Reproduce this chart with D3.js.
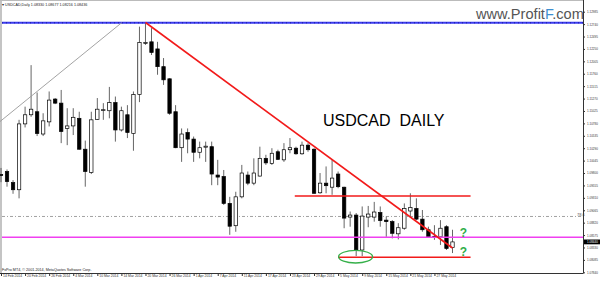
<!DOCTYPE html>
<html>
<head>
<meta charset="utf-8">
<script src="https://cdn.jsdelivr.net/npm/d3@7"></script>
<style>
body{margin:0;background:#fff;}
svg{display:block;font-family:"Liberation Sans",Arial,sans-serif;}
</style>
</head>
<body>
<svg id="chart" width="600" height="281"></svg>
<script>
// daily candles, 14 Feb 2014 .. 30 May 2014 (one per trading day)
var opens  = [1.0977,1.0983,1.0961,1.0947,1.1077,1.1095,1.1101,1.1057,1.1081,1.1126,1.1118,1.1068,1.1073,1.1088,1.1027,1.0981,1.1086,1.1104,1.1103,1.1119,
              1.1065,1.1095,1.1058,1.1135,1.1236,1.1239,1.1225,1.1190,1.1166,1.1101,1.1030,1.1060,1.1047,1.1021,1.1031,1.1032,1.0976,1.0973,1.0920,1.0876,
              1.0933,1.0976,1.0960,1.0974,1.1009,1.0999,1.1022,1.1006,1.1026,1.1029,1.1018,1.1035,1.1027,1.0941,1.0960,1.0952,1.0978,1.0952,1.0893,1.0897,
              1.0828,1.0893,1.0893,1.0902,1.0887,1.0884,1.0860,1.0871,1.0905,1.0910,1.0889,1.0868,1.0855,1.0854,1.0874,1.0833];
var highs  = [1.0990,1.0987,1.0966,1.1085,1.1111,1.1193,1.1139,1.1098,1.1141,1.1128,1.1144,1.1108,1.1108,1.1101,1.1044,1.1101,1.1128,1.1118,1.1150,1.1131,
              1.1111,1.1114,1.1141,1.1269,1.1277,1.1266,1.1239,1.1207,1.1167,1.1114,1.1068,1.1068,1.1052,1.1042,1.1042,1.1042,1.1006,1.0986,1.0933,1.0943,
              1.0996,1.0983,1.1009,1.1032,1.1016,1.1029,1.1026,1.1039,1.1049,1.1032,1.1042,1.1039,1.1029,1.0980,1.0993,1.1006,1.0983,1.0953,1.0904,1.0901,
              1.0914,1.0915,1.0923,1.0914,1.0894,1.0887,1.0881,1.0920,1.0940,1.0930,1.0907,1.0874,1.0877,1.0887,1.0877,1.0868];
var lows   = [1.0962,1.0953,1.0939,1.0930,1.1070,1.1091,1.1053,1.1053,1.1072,1.1116,1.1039,1.1035,1.1055,1.1026,1.0953,1.0978,1.1085,1.1085,1.1088,1.1042,
              1.1062,1.1049,1.1024,1.1120,1.1233,1.1213,1.1174,1.1154,1.1095,1.1029,1.1002,1.1019,1.1002,1.1009,1.1002,1.0956,1.0956,1.0917,1.0858,1.0864,
              1.0930,1.0956,1.0956,1.0973,1.0996,1.0996,1.1006,1.1002,1.1019,1.1016,1.1016,1.1022,1.0939,1.0939,1.0940,1.0937,1.0950,1.0871,1.0874,1.0816,
              1.0816,1.0873,1.0884,1.0874,1.0854,1.0851,1.0849,1.0868,1.0894,1.0887,1.0864,1.0853,1.0848,1.0838,1.0828,1.0822];
var closes = [1.0975,1.0963,1.0947,1.1077,1.1095,1.1106,1.1058,1.1083,1.1124,1.1118,1.1062,1.1073,1.1090,1.1027,1.0983,1.1085,1.1106,1.1105,1.1119,1.1065,
              1.1103,1.1060,1.1135,1.1238,1.1238,1.1218,1.1190,1.1164,1.1098,1.1030,1.1057,1.1047,1.1021,1.1030,1.1033,1.0978,1.0972,1.0920,1.0875,1.0933,
              1.0980,1.0960,1.0980,1.1009,1.1000,1.1019,1.1007,1.1026,1.1030,1.1018,1.1035,1.1026,1.0940,1.0960,1.0955,1.0970,1.0953,1.0891,1.0897,1.0828,
              1.0895,1.0899,1.0903,1.0886,1.0884,1.0861,1.0872,1.0910,1.0912,1.0889,1.0868,1.0854,1.0854,1.0871,1.0831,1.0844];

// date labels every 4th bar
var dateLabels = ["14 Feb 2014","20 Feb 2014","26 Feb 2014","4 Mar 2014","10 Mar 2014","14 Mar 2014","20 Mar 2014","26 Mar 2014",
                  "1 Apr 2014","7 Apr 2014","11 Apr 2014","17 Apr 2014","23 Apr 2014","29 Apr 2014","5 May 2014","9 May 2014",
                  "15 May 2014","21 May 2014","27 May 2014"];
var priceTicks = [1.07840,1.08085,1.08330,1.08575,1.08820,1.09065,1.09310,1.09555,1.09800,1.10045,1.10290,
                  1.10535,1.10780,1.11025,1.11270,1.11515,1.11760,1.12005,1.12250,1.12495,1.12740,1.12985];
var header = ["USDCAD,Daily", "1.08330", "1.08677", "1.08216", "1.08436"];

// drawn objects
var blueLevel = 1.12765, pinkLevel = 1.08531, fiboLevel = 1.08942;
var resistance = {from: 48.8, to: 78, price: 1.09346};
var support = {from: 56, to: 78, price: 1.08136};
var trendDown = [[24, 1.12772], [75, 1.0832]];
var trendUp = [[-0.2, 1.10813], [20.05, 1.12768]];

var svg = d3.select("#chart");
var W = 583, H = 273;
var x = d3.scaleLinear().domain([0, 75]).range([1, 452.5]);
var y = d3.scaleLinear().domain([1.07840, 1.12985]).range([272.3, 11.7]);

svg.append("rect").attr("width", 600).attr("height", 281).attr("fill", "#fff");
svg.append("rect").attr("x", 0).attr("y", 0).attr("width", 2).attr("height", H).attr("fill", "#c4c4c4");
svg.append("line").attr("x1", 0).attr("x2", W).attr("y1", 0.5).attr("y2", 0.5).attr("stroke", "#bbb");

var plot = svg.append("g");

// fibo 78.6 dash-dot level
plot.append("line")
  .attr("x1", 2).attr("x2", W).attr("y1", y(fiboLevel)).attr("y2", y(fiboLevel))
  .attr("stroke", "#8a8a8a").attr("stroke-width", 0.8).attr("stroke-dasharray", "3,2,1,2");
plot.append("text").attr("x", 577).attr("y", y(fiboLevel) - 0.5)
  .attr("font-size", 4).attr("fill", "#555").text("78,6");

// candles
var bars = d3.range(opens.length).map(function(i) {
  return {i: i, o: opens[i], h: highs[i], l: lows[i], c: closes[i]};
});
var bw = 3.4;
var candle = plot.selectAll(".candle").data(bars).enter().append("g").attr("class", "candle");
candle.append("line")
  .attr("x1", function(d) { return x(d.i); })
  .attr("x2", function(d) { return x(d.i); })
  .attr("y1", function(d) { return y(d.h); })
  .attr("y2", function(d) { return y(d.l); })
  .attr("stroke", "#555").attr("stroke-width", 0.9);
candle.append("rect")
  .attr("x", function(d) { return x(d.i) - bw / 2; })
  .attr("width", bw)
  .attr("y", function(d) { return y(Math.max(d.o, d.c)); })
  .attr("height", function(d) { return Math.max(0.8, Math.abs(y(d.o) - y(d.c))); })
  .attr("fill", function(d) { return d.c >= d.o ? "#fff" : "#000"; })
  .attr("stroke", "#000").attr("stroke-width", 0.7);

// horizontal levels
plot.append("line").attr("x1", 2).attr("x2", W).attr("y1", y(pinkLevel)).attr("y2", y(pinkLevel))
  .attr("stroke", "#f040f0").attr("stroke-width", 1.6);
plot.append("line").attr("x1", 2).attr("x2", W).attr("y1", y(blueLevel)).attr("y2", y(blueLevel))
  .attr("stroke", "#3a3aee").attr("stroke-width", 2);
plot.append("line").attr("x1", 2).attr("x2", W).attr("y1", y(blueLevel)).attr("y2", y(blueLevel))
  .attr("stroke", "#1c1c9a").attr("stroke-width", 1).attr("stroke-dasharray", "1,3");

[resistance, support].forEach(function(r) {
  plot.append("line").attr("x1", x(r.from)).attr("x2", x(r.to)).attr("y1", y(r.price)).attr("y2", y(r.price))
    .attr("stroke", "#f21a1a").attr("stroke-width", 1.6);
});

var line = d3.line().x(function(d) { return x(d[0]); }).y(function(d) { return y(d[1]); });
plot.append("path").attr("d", line(trendUp)).attr("fill", "none").attr("stroke", "#999").attr("stroke-width", 0.9);
plot.append("path").attr("d", line(trendDown)).attr("fill", "none").attr("stroke", "#f21a1a").attr("stroke-width", 1.6);

// green ellipse around the May lows and question marks
plot.append("ellipse").attr("cx", x(58.9)).attr("cy", y(1.08148)).attr("rx", 17).attr("ry", 6.3)
  .attr("fill", "none").attr("stroke", "#36b04a").attr("stroke-width", 1.3);
plot.selectAll(".q").data([1.0853, 1.0817]).enter().append("text")
  .attr("x", x(76.2)).attr("y", function(d) { return y(d); })
  .attr("font-size", 12).attr("font-weight", "bold").attr("fill", "#2fae4a").text("?");

// title and watermark
svg.append("text").attr("x", 323).attr("y", 126).attr("font-size", 16).attr("fill", "#000")
  .attr("xml:space", "preserve").text("USDCAD  DAILY");
var wm = svg.append("text").attr("x", 476).attr("y", 19).attr("font-size", 14.6).attr("fill", "#555");
wm.append("tspan").text("www.Profit");
wm.append("tspan").attr("fill", "#3d8fd0").text("F");
wm.append("tspan").text(".com");

// header and copyright
svg.append("text").attr("x", 2).attr("y", 5.5).attr("font-size", 3.7).attr("fill", "#222")
  .attr("xml:space", "preserve").text("\u25BE " + header.join(" "));
svg.append("text").attr("x", 2).attr("y", 271).attr("font-size", 3.7).attr("fill", "#222")
  .text("FxPro MT4, \u00A9 2001-2014, MetaQuotes Software Corp.");

// price axis
var yAxis = svg.append("g").attr("transform", "translate(" + W + ",0)")
  .call(d3.axisRight(y).tickValues(priceTicks).tickSize(2).tickPadding(2).tickFormat(d3.format(".5f")));
yAxis.select(".domain").attr("d", "M0.5,0V" + H).attr("stroke", "#333");
yAxis.selectAll("text").attr("font-size", 3).attr("fill", "#333").attr("font-family", "Liberation Sans, Arial");
yAxis.selectAll("line").attr("stroke", "#333");

// current price box
var last = closes[closes.length - 1];
svg.append("rect").attr("x", W + 1).attr("y", y(last) - 2.4).attr("width", 16).attr("height", 4.8).attr("fill", "#000");
svg.append("text").attr("x", W + 4).attr("y", y(last) + 1.1).attr("font-size", 3).attr("fill", "#fff")
  .text(d3.format(".5f")(last));

// date axis
var dateTicks = dateLabels.map(function(d, k) { return k * 4; });
var xAxis = svg.append("g").attr("transform", "translate(0," + H + ")")
  .call(d3.axisBottom(x).tickValues(dateTicks).tickSize(3)
    .tickFormat(function(d) { return dateLabels[d / 4]; }));
xAxis.select(".domain").attr("d", "M0,0.5H" + (W + 0.5)).attr("stroke", "#333");
xAxis.selectAll("line").attr("stroke", "#333");
xAxis.selectAll("text").attr("text-anchor", "start").attr("x", 1.5).attr("y", 2).attr("dy", "0.71em")
  .attr("font-size", 3.4).attr("fill", "#333").attr("font-family", "Liberation Sans, Arial");
</script>
</body>
</html>
